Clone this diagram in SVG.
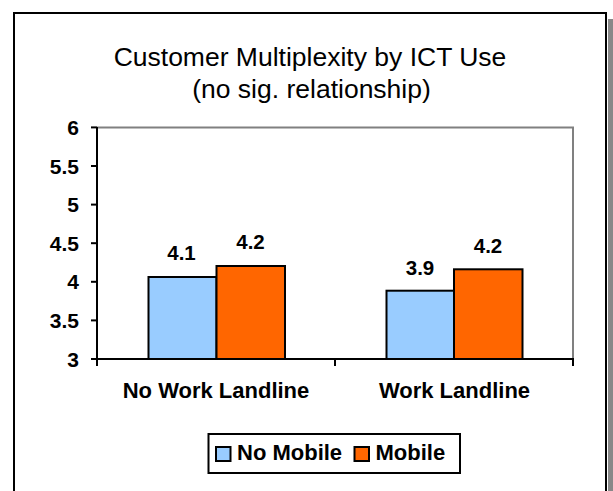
<svg xmlns="http://www.w3.org/2000/svg" width="613" height="491" viewBox="0 0 613 491">
<style>
.title{font-family:"Liberation Sans",Arial,sans-serif;font-size:26.5px;fill:#000;text-anchor:middle}
.ax{font-family:"Liberation Sans",Arial,sans-serif;font-size:21px;font-weight:bold;fill:#000;text-anchor:end}
.cat{font-family:"Liberation Sans",Arial,sans-serif;font-size:22px;font-weight:bold;fill:#000;text-anchor:middle}
.val{font-family:"Liberation Sans",Arial,sans-serif;font-size:20.5px;font-weight:bold;fill:#000;text-anchor:middle}
.leg{font-family:"Liberation Sans",Arial,sans-serif;font-size:22px;font-weight:bold;fill:#000}
.blue{fill:#99CCFF;stroke:#000;stroke-width:2}
.orange{fill:#FF6600;stroke:#000;stroke-width:2}
.tick{stroke:#000;stroke-width:2;fill:none}
</style>
<rect x="0" y="0" width="613" height="491" fill="#fff"/>
<rect x="608" y="19" width="5" height="472" fill="#888"/>
<rect x="14" y="13" width="592" height="490" fill="#fff" stroke="#000" stroke-width="2"/>
<g id="title">
<text class="title" x="310" y="65.5">Customer Multiplexity by ICT Use</text>
<text class="title" x="311.5" y="97.5">(no sig. relationship)</text>
</g>
<g id="plot-frame">
<polyline points="97,127.5 573,127.5 573,359" fill="none" stroke="#808080" stroke-width="2"/>
</g>
<g id="bars">
<g id="bar-nowork-nomobile"><rect class="blue" x="148.5" y="277" width="68" height="82"/></g>
<g id="bar-nowork-mobile"><rect class="orange" x="216.5" y="266" width="68.5" height="93"/></g>
<g id="bar-work-nomobile"><rect class="blue" x="386.5" y="290.7" width="67.5" height="68.3"/></g>
<g id="bar-work-mobile"><rect class="orange" x="454" y="269.3" width="68.5" height="89.7"/></g>
</g>
<g id="axes">
<line class="tick" x1="97" y1="127" x2="97" y2="366"/>
<line class="tick" x1="97" y1="359" x2="574" y2="359"/>
<line class="tick" x1="91" y1="127.4" x2="97" y2="127.4"/>
<line class="tick" x1="91" y1="166" x2="97" y2="166"/>
<line class="tick" x1="91" y1="204.6" x2="97" y2="204.6"/>
<line class="tick" x1="91" y1="243.2" x2="97" y2="243.2"/>
<line class="tick" x1="91" y1="281.8" x2="97" y2="281.8"/>
<line class="tick" x1="91" y1="320.4" x2="97" y2="320.4"/>
<line class="tick" x1="91" y1="359" x2="97" y2="359"/>
<line class="tick" x1="335" y1="359" x2="335" y2="366"/>
<line class="tick" x1="573" y1="359" x2="573" y2="366"/>
</g>
<g id="y-labels">
<text class="ax" x="79" y="134.9">6</text>
<text class="ax" x="79" y="173.5">5.5</text>
<text class="ax" x="79" y="212.1">5</text>
<text class="ax" x="79" y="250.7">4.5</text>
<text class="ax" x="79" y="289.3">4</text>
<text class="ax" x="79" y="327.9">3.5</text>
<text class="ax" x="79" y="366.5">3</text>
</g>
<g id="value-labels">
<text class="val" x="181.5" y="260">4.1</text>
<text class="val" x="250.5" y="249">4.2</text>
<text class="val" x="420" y="275">3.9</text>
<text class="val" x="488" y="253">4.2</text>
</g>
<g id="category-labels">
<text class="cat" x="216" y="398">No Work Landline</text>
<text class="cat" x="454.5" y="398">Work Landline</text>
</g>
<g id="legend">
<rect x="208.5" y="434" width="251.5" height="39" fill="#fff" stroke="#000" stroke-width="2"/>
<rect class="blue" x="216" y="447" width="14.5" height="14"/>
<text class="leg" x="237" y="459.5">No Mobile</text>
<rect class="orange" x="354.5" y="447" width="14.5" height="14"/>
<text class="leg" x="375.5" y="459.5">Mobile</text>
</g>
</svg>
